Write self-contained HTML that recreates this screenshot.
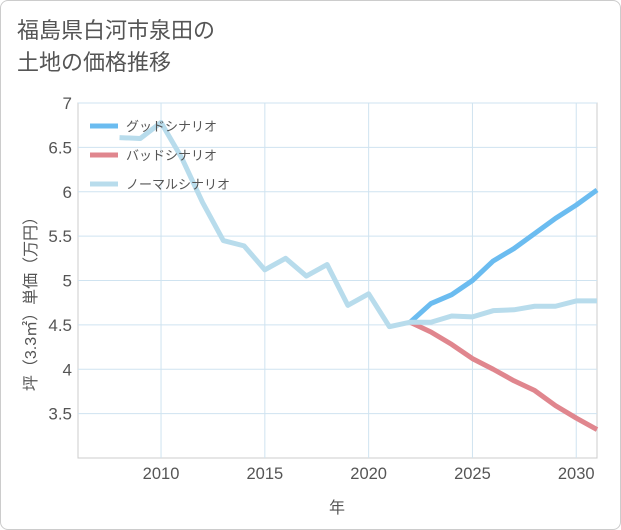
<!DOCTYPE html>
<html><head><meta charset="utf-8"><style>
body{margin:0;background:#fff;font-family:"Liberation Sans","Noto Sans CJK JP",sans-serif;}
#wrap{position:relative;width:619px;height:528px;border:1px solid #ccc;border-radius:8px;overflow:hidden;}
#title{position:absolute;left:16px;top:14px;font-size:22px;line-height:32px;color:#555;}
</style></head><body>
<div id="wrap">
<div id="title">福島県白河市泉田の<br>土地の価格推移</div>
<svg id="c" width="621" height="530" style="position:absolute;left:-1px;top:-1px"></svg>
</div>
<script>
const years=[2008,2009,2010,2011,2012,2013,2014,2015,2016,2017,2018,2019,2020,2021,2022,2023,2024,2025,2026,2027,2028,2029,2030,2031];
const normal=[6.61,6.6,6.78,6.38,5.88,5.45,5.39,5.12,5.25,5.05,5.18,4.72,4.85,4.48,4.53,4.53,4.60,4.59,4.66,4.67,4.71,4.71,4.77,4.77];
const fYears=[2022,2023,2024,2025,2026,2027,2028,2029,2030,2031];
const good=[4.53,4.74,4.84,5.0,5.22,5.36,5.53,5.7,5.85,6.02];
const bad=[4.53,4.42,4.28,4.12,4.0,3.87,3.76,3.59,3.45,3.32];
const xTicks=[2010,2015,2020,2025,2030];
const yTicks=[3.5,4,4.5,5,5.5,6,6.5,7];
const L=78,R=597,T=103,B=458;
const x=v=>L+(v-2006)/(2031-2006)*(R-L);
const y=v=>B-(v-3)/(7-3)*(B-T);
const svg=document.getElementById('c');const NS='http://www.w3.org/2000/svg';
function mk(t,a,p){const e=document.createElementNS(NS,t);for(const k in a)e.setAttribute(k,a[k]);(p||svg).appendChild(e);return e;}
let e=mk('rect',{x:L,y:T,width:R-L,height:B-T,fill:'none',stroke:'#ccc'});


xTicks.forEach(v=>{let g=mk('line',{x1:x(v),x2:x(v),y1:T,y2:B,stroke:'#cfe3f0'});


let t=mk('text',{x:x(v),y:479,'text-anchor':'middle','font-size':16.5,fill:'#555'});t.textContent=v;

});
yTicks.forEach(v=>{let g=mk('line',{x1:L,x2:R,y1:y(v),y2:y(v),stroke:'#cfe3f0'});


let t=mk('text',{x:72,y:y(v)+6,'text-anchor':'end','font-size':17,fill:'#555'});t.textContent=v;

});
let xt=mk('text',{x:337,y:513,'text-anchor':'middle','font-size':16,fill:'#555'});xt.textContent='年';


let yt=mk('text',{x:0,y:0,'text-anchor':'middle','font-size':16,fill:'#555',transform:'translate(36,300) rotate(-90)'});yt.textContent='坪（3.3㎡）単価（万円）';


function line(xs,ys,c,n){const d=xs.map((v,i)=>(i?'L':'M')+x(v)+','+y(ys[i])).join('');let p=mk('path',{d:d,fill:'none',stroke:c,'stroke-width':5,'stroke-linejoin':'round'});

}
line(fYears,bad,'#e0868e','bad-scenario-line');
line(fYears,good,'#6bbcf0','good-scenario-line');
line(years,normal,'#b8dcec','normal-scenario-line');
const leg=[['グッドシナリオ','#6bbcf0'],['バッドシナリオ','#e0868e'],['ノーマルシナリオ','#b8dcec']];
leg.forEach((l,i)=>{const yy=126+i*29;let s=mk('line',{x1:90,x2:118,y1:yy,y2:yy,stroke:l[1],'stroke-width':5});


let t=mk('text',{x:126,y:yy+5,'font-size':13,fill:'#555'});t.textContent=l[0];

});
</script>
</body></html>
